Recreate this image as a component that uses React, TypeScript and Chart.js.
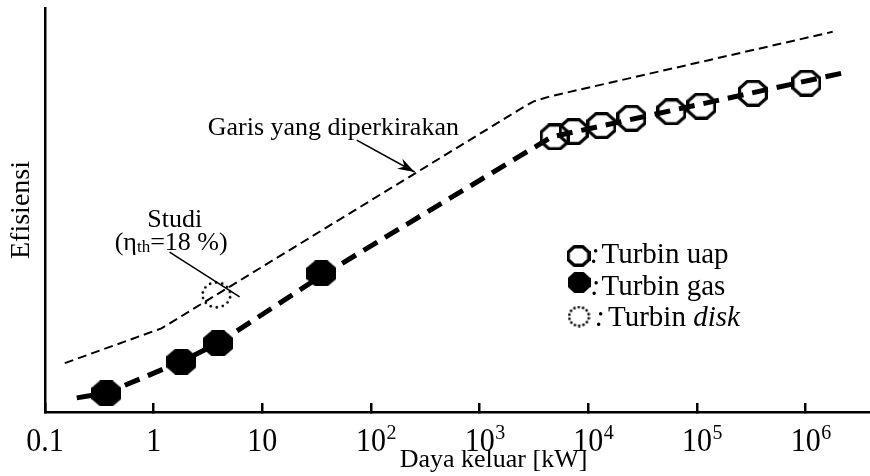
import React, { useEffect, useRef } from 'react';
import { Chart, registerables } from 'chart.js';

Chart.register(...registerables);

const FONT = '"Liberation Serif", "Times New Roman", serif';

// X axis ticks (log scale, kW)
const tickValues = [0.1, 1, 10, 100, 1000, 10000, 100000, 1000000];
const tickBases = ['0.1', '1', '10', '10', '10', '10', '10', '10'];
const tickExponents = ['', '', '', '2', '3', '4', '5', '6'];

// Turbin uap (open octagons)
const steamX = [4890, 7310, 13200, 24900, 58100, 109700, 327000, 1015000];
const steamY = [68.1, 69.4, 70.9, 72.7, 74.3, 75.7, 78.9, 81.4];

// Turbin gas (filled octagons)
const gasX = [0.367, 1.8, 3.91, 34.9];
const gasY = [4.6, 12.45, 17.0, 34.3];

// Turbin disk (dotted octagon, study)
const diskX = [3.78];
const diskY = [29.0];

// Thick dashed trend through measured machines
const trendX = [0.196, 0.367, 1.8, 3.91, 34.9, 4590, 2180000];
const trendY = [3.5, 4.7, 12.5, 17.0, 33.7, 68.1, 83.9];

// Thin dashed "Garis yang diperkirakan"
const estimateX = [0.152, 1.18, 2335, 3140, 4405, 1770000];
const estimateY = [12.1, 20.7, 74.9, 76.9, 78.1, 94.1];

const xTitle = 'Daya keluar [kW]';
const yTitle = 'Efisiensi';
const estimateLabel = 'Garis yang diperkirakan';
const studyLabel = 'Studi';
const legendLabels = ['Turbin uap', 'Turbin gas', 'Turbin '];
const legendItalic = ['', '', 'disk'];

function makeOctagon(w: number, h: number, mode: 'open' | 'filled' | 'dotted', lw = 3) {
  const c = document.createElement('canvas');
  c.width = w;
  c.height = h;
  const g = c.getContext('2d')!;
  const cx = w / 2;
  const cy = h / 2;
  const k = Math.cos(Math.PI / 8);
  if (mode === 'dotted') {
    const rx = w / 2 - 1.6;
    const ry = h / 2 - 1.6;
    g.fillStyle = '#000';
    const n = 14;
    for (let i = 0; i < n; i++) {
      const a = (i / n) * Math.PI * 2 + 0.2;
      g.beginPath();
      g.arc(cx + rx * Math.cos(a), cy + ry * Math.sin(a), 1.35, 0, Math.PI * 2);
      g.fill();
    }
    return c;
  }
  const inset = mode === 'open' ? lw / 2 : 0;
  const rx = (w / 2 - inset) / k;
  const ry = (h / 2 - inset) / k;
  g.beginPath();
  for (let i = 0; i < 8; i++) {
    const a = Math.PI / 8 + (i * Math.PI) / 4;
    const px = cx + rx * Math.cos(a);
    const py = cy + ry * Math.sin(a);
    if (i === 0) g.moveTo(px, py);
    else g.lineTo(px, py);
  }
  g.closePath();
  if (mode === 'filled') {
    g.fillStyle = '#000';
    g.fill();
  } else {
    g.strokeStyle = '#000';
    g.lineWidth = lw;
    g.lineJoin = 'miter';
    g.stroke();
  }
  return c;
}

// plot frame: axis box extends past the right edge of the canvas like the original figure
const AREA = { left: 45, right: 942, top: 8, bottom: 412, canvasH: 476 };

export default function App() {
  const ref = useRef<HTMLCanvasElement>(null);

  useEffect(() => {
    document.body.style.margin = '0';
    const openM = makeOctagon(30, 27, 'open', 3.2);
    const filledM = makeOctagon(30, 26, 'filled');
    const dottedM = makeOctagon(31, 28, 'dotted');
    const legendMarks = [makeOctagon(24, 22, 'open', 3.4), makeOctagon(23, 21, 'filled'), makeOctagon(23, 22, 'dotted')];

    const frame = {
      id: 'frame',
      afterLayout(chart: any) {
        const ca = chart.chartArea;
        ca.left = AREA.left;
        ca.right = AREA.right;
        ca.top = AREA.top;
        ca.bottom = AREA.bottom;
        ca.width = AREA.right - AREA.left;
        ca.height = AREA.bottom - AREA.top;
        const xs = chart.scales.x;
        const ys = chart.scales.y;
        xs.left = AREA.left;
        xs.right = AREA.right;
        xs.width = AREA.right - AREA.left;
        xs.top = AREA.bottom;
        xs.bottom = AREA.canvasH;
        xs.height = AREA.canvasH - AREA.bottom;
        ys.left = 0;
        ys.right = AREA.left;
        ys.width = AREA.left;
        ys.top = AREA.top;
        ys.bottom = AREA.bottom;
        ys.height = AREA.bottom - AREA.top;
        xs.configure();
        ys.configure();
      },
    };

    const overlay = {
      id: 'overlay',
      afterDraw(chart: any) {
        const { ctx, scales } = chart;
        const xs = scales.x;
        const ys = scales.y;
        const px = (v: number) => xs.getPixelForValue(v);
        const py = (v: number) => ys.getPixelForValue(v);
        const bottom = chart.chartArea.bottom;
        ctx.save();
        ctx.fillStyle = '#000';
        ctx.strokeStyle = '#000';

        // tick labels with superscript exponents (slightly tall glyphs as in the original)
        tickValues.forEach((v, i) => {
          const cx = px(v);
          ctx.save();
          ctx.translate(cx, bottom + 39);
          ctx.scale(1, 1.1);
          ctx.font = `30px ${FONT}`;
          ctx.textAlign = 'center';
          ctx.textBaseline = 'alphabetic';
          ctx.fillText(tickBases[i], 0, 0);
          if (tickExponents[i]) {
            const w = ctx.measureText(tickBases[i]).width;
            ctx.font = `20px ${FONT}`;
            ctx.textAlign = 'left';
            ctx.fillText(tickExponents[i], w / 2 + 0.5, -10.5);
          }
          ctx.restore();
        });

        // "Garis yang diperkirakan" label + arrow
        ctx.font = `26px ${FONT}`;
        ctx.textAlign = 'left';
        ctx.textBaseline = 'alphabetic';
        ctx.fillText(estimateLabel, px(3.14), py(68.6));
        const ax0 = px(73.8), ay0 = py(67.3), ax1 = px(252), ay1 = py(59.4);
        ctx.lineWidth = 1.5;
        ctx.beginPath();
        ctx.moveTo(ax0, ay0);
        ctx.lineTo(ax1, ay1);
        ctx.stroke();
        const ang = Math.atan2(ay1 - ay0, ax1 - ax0);
        const L = 18;
        const spread = 0.32;
        ctx.beginPath();
        ctx.moveTo(ax1, ay1);
        ctx.lineTo(ax1 - L * Math.cos(ang - spread), ay1 - L * Math.sin(ang - spread));
        ctx.lineTo(ax1 - 0.65 * L * Math.cos(ang), ay1 - 0.65 * L * Math.sin(ang));
        ctx.lineTo(ax1 - L * Math.cos(ang + spread), ay1 - L * Math.sin(ang + spread));
        ctx.closePath();
        ctx.fill();

        // "Studi (ηth=18 %)" label + leader line
        ctx.textAlign = 'center';
        ctx.fillText(studyLabel, px(1.56), py(45.8));
        ctx.textAlign = 'left';
        let tx = px(0.4375);
        const tb = py(40.1);
        ctx.fillText('(\u03B7', tx, tb);
        tx += ctx.measureText('(\u03B7').width;
        ctx.font = `17px ${FONT}`;
        ctx.fillText('th', tx, tb + 2);
        tx += ctx.measureText('th').width;
        ctx.font = `26px ${FONT}`;
        ctx.fillText('=18 %)', tx, tb);
        ctx.lineWidth = 1.5;
        ctx.beginPath();
        ctx.moveTo(px(1.40), py(39.6));
        ctx.lineTo(px(6.18), py(28.5));
        ctx.stroke();

        // legend
        const rows = [
          { cx: 578.5, cy: 256, base: 263, colon: 590, text: 601.5 },
          { cx: 579, cy: 282.5, base: 295, colon: 590.5, text: 601.5 },
          { cx: 579, cy: 316.5, base: 326, colon: 595, text: 608 },
        ];
        rows.forEach((r, i) => {
          const m = legendMarks[i];
          ctx.drawImage(m, r.cx - m.width / 2, r.cy - m.height / 2);
          ctx.font = `italic 29px ${FONT}`;
          ctx.fillText(':', r.colon, r.base);
          ctx.font = `29px ${FONT}`;
          ctx.fillText(legendLabels[i], r.text, r.base);
          if (legendItalic[i]) {
            const w = ctx.measureText(legendLabels[i]).width;
            ctx.font = `italic 29px ${FONT}`;
            ctx.fillText(legendItalic[i], r.text + w, r.base);
          }
        });
        ctx.restore();
      },
    };

    const pts = (xs: number[], ys: number[]) => xs.map((x, i) => ({ x, y: ys[i] }));

    const chart = new Chart(ref.current!, {
      type: 'line',
      data: {
        datasets: [
          {
            label: 'Garis yang diperkirakan',
            data: pts(estimateX, estimateY),
            borderColor: '#000',
            borderWidth: 2,
            borderDash: [9, 5],
            pointRadius: 0,
            tension: 0,
            fill: false,
            order: 1,
          },
          {
            label: 'Tren',
            data: pts(trendX, trendY),
            borderColor: '#000',
            borderWidth: 5,
            borderDash: [16, 9],
            pointRadius: 0,
            tension: 0,
            fill: false,
            order: 0,
          },
          {
            label: 'Turbin uap',
            data: pts(steamX, steamY),
            showLine: false,
            pointStyle: openM as any,
            pointRadius: 12,
            order: 2,
          },
          {
            label: 'Turbin gas',
            data: pts(gasX, gasY),
            showLine: false,
            pointStyle: filledM as any,
            pointRadius: 12,
            order: 2,
          },
          {
            label: 'Turbin disk',
            data: pts(diskX, diskY),
            showLine: false,
            pointStyle: dottedM as any,
            pointRadius: 12,
            order: 2,
          },
        ],
      },
      options: {
        responsive: false,
        devicePixelRatio: 1,
        animation: false,
        layout: { padding: { top: 8, right: 0, left: 0, bottom: 0 } },
        plugins: { legend: { display: false }, tooltip: { enabled: false } },
        scales: {
          x: {
            type: 'logarithmic',
            min: 0.1,
            max: 1.795e7,
            afterBuildTicks: (scale: any) => {
              scale.ticks = tickValues.map((v) => ({ value: v }));
            },
            afterFit: (scale: any) => {
              scale.height = 64;
            },
            ticks: { display: false },
            grid: {
              display: true,
              drawOnChartArea: false,
              drawTicks: true,
              tickLength: -9,
              color: '#000',
              lineWidth: 2.5,
            },
            border: { display: true, color: '#000', width: 2.5 },
            title: {
              display: true,
              text: xTitle,
              color: '#000',
              font: { family: FONT, size: 26, lineHeight: 1.2 },
              padding: { top: 0, bottom: 0 },
            },
          },
          y: {
            type: 'linear',
            min: 0,
            max: 100,
            afterFit: (scale: any) => {
              scale.width = 45;
            },
            ticks: { display: false },
            grid: { display: false },
            border: { display: true, color: '#000', width: 2.5 },
            title: {
              display: true,
              text: yTitle,
              color: '#000',
              font: { family: FONT, size: 28, lineHeight: 1.2 },
              padding: { top: 5, bottom: 0 },
            },
          },
        },
      },
      plugins: [frame, overlay],
    });
    return () => chart.destroy();
  }, []);

  return (
    <div style={{ width: 870, height: 476 }}>
      <canvas ref={ref} width={870} height={476} style={{ display: 'block', width: 870, height: 476 }} />
    </div>
  );
}
